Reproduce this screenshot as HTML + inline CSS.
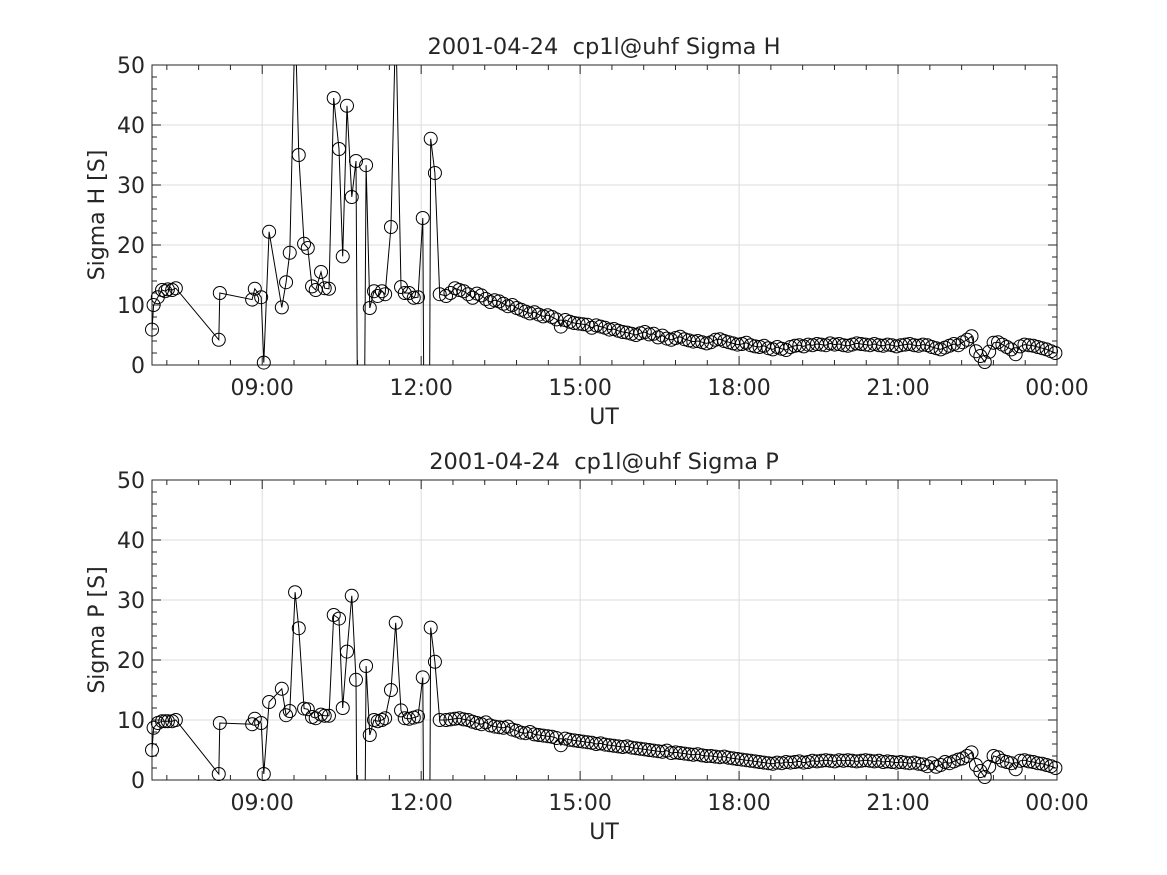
<!DOCTYPE html>
<html><head><meta charset="utf-8"><style>
html,body{margin:0;padding:0;background:#fff;overflow:hidden;width:1167px;height:875px;}
svg{display:block;overflow:hidden;position:absolute;left:0;top:0;}
svg text{font-family:"DejaVu Sans","Liberation Sans",sans-serif;fill:#262626;white-space:pre;}
</style></head><body>
<svg id="fig" width="1167" height="875" viewBox="0 0 1167 875" xmlns="http://www.w3.org/2000/svg"></svg>
<script>
// Early irregular samples (hours UT)
const earlyTimes=[6.92,6.95,7.03,7.11,7.17,7.22,7.30,7.37,8.18,8.20,8.81,8.86,8.98,9.03,9.13,9.37,9.45,9.52,9.62,9.69,9.79,9.86,9.94,10.01,10.11,10.18,10.26,10.35,10.45,10.52,10.60,10.69,10.77,10.86,10.96,11.03,11.11,11.18,11.26,11.32,11.43,11.52,11.62,11.69,11.77,11.86,11.94,12.03,12.11,12.18,12.26,12.35];
const earlyH=[5.9,10.0,11.3,12.5,12.3,12.6,12.5,12.8,4.2,12.0,10.9,12.7,11.3,0.4,22.2,9.6,13.8,18.7,58,35,20.2,19.5,13.1,12.5,15.5,12.8,12.7,44.5,36,18.1,43.2,28,34,-100,33.3,9.5,12.3,11.5,12.3,11.8,23,58,13,12,12,11.2,11.3,24.5,-100,37.7,32,11.8];
const earlyP=[5.0,8.7,9.5,9.8,9.8,9.8,9.8,10.0,1.0,9.5,9.3,10.2,9.5,1.0,13.0,15.2,10.8,11.5,31.3,25.3,11.9,11.8,10.5,10.3,10.9,10.7,10.7,27.5,26.9,12.0,21.4,30.7,16.7,-100,19.0,7.5,10,9.8,10,10.3,15,26.2,11.6,10.3,10.2,10.4,10.6,17.1,-100,25.4,19.7,10.0];
// Regular 5-minute samples starting 12:28 UT
const regStart=12.47;
const regH=[11.5,12.0,12.8,12.5,12.3,11.8,11.2,11.9,11.6,11.0,10.5,10.8,
10.6,10.2,9.8,10.0,9.5,9.2,8.9,8.6,8.8,8.4,8.1,8.3,
8.0,7.6,6.4,7.5,7.2,7.0,6.9,6.8,6.7,6.2,6.6,6.4,
6.2,5.9,6.0,5.7,5.5,5.4,5.2,5.0,5.3,5.5,5.1,5.2,
4.6,4.9,4.4,4.2,4.5,4.7,4.3,4.1,3.9,4.0,3.8,3.6,
3.8,4.2,4.3,4.0,3.8,3.6,3.4,3.5,3.7,3.3,3.1,3.0,
3.2,2.8,2.6,3.0,2.7,2.5,3.0,3.2,3.3,3.1,3.4,3.3,
3.5,3.4,3.3,3.6,3.4,3.5,3.3,3.2,3.4,3.6,3.5,3.4,
3.3,3.5,3.3,3.2,3.4,3.3,3.1,3.3,3.4,3.5,3.3,3.2,
3.4,3.3,3.0,2.8,2.6,2.9,3.2,3.5,3.3,3.8,4.2,4.8,
2.3,1.5,0.5,2.2,3.7,3.8,3.4,3.0,2.6,1.8,3.1,3.4,
3.3,3.2,3.0,2.8,2.6,2.3,2.0];
const regP=[10.0,10.1,10.2,10.3,10.1,10.0,9.7,9.5,9.3,9.6,9.1,8.9,
8.8,8.7,8.9,8.4,8.2,7.9,7.8,8.0,7.6,7.5,7.4,7.3,
7.2,7.0,5.8,6.9,6.7,6.6,6.5,6.4,6.3,6.2,6.0,6.1,
5.9,5.8,5.7,5.6,5.5,5.6,5.4,5.3,5.2,5.1,5.0,4.9,
4.8,4.7,4.9,4.5,4.6,4.5,4.4,4.3,4.2,4.3,4.1,4.0,
4.0,3.9,3.8,3.9,3.7,3.6,3.5,3.4,3.3,3.2,3.1,3.0,
2.9,2.8,2.7,2.9,2.8,3.0,2.9,3.0,3.1,2.9,3.0,3.2,
3.1,3.2,3.3,3.2,3.1,3.3,3.2,3.3,3.2,3.1,3.2,3.3,
3.2,3.1,3.2,3.0,3.1,3.0,2.9,3.0,2.9,2.8,2.9,2.7,
2.6,2.3,2.8,2.2,2.5,3.0,2.8,3.1,3.4,3.6,4.0,4.6,
2.5,1.5,0.5,2.2,4.0,3.8,3.2,3.0,2.8,1.8,3.2,3.3,
3.1,3.0,2.8,2.7,2.5,2.3,2.0];
const xTickHours=[9,12,15,18,21,24];
const xTickLabels=["09:00","12:00","15:00","18:00","21:00","00:00"];
const yTicks=[0,10,20,30,40,50];
const xMin=6.92, xMax=24, yMin=0, yMax=50;

const NS="http://www.w3.org/2000/svg";
const svg=document.getElementById('fig');
function el(tag,attrs,parent){const e=document.createElementNS(NS,tag);for(const k in attrs)e.setAttribute(k,attrs[k]);(parent||svg).appendChild(e);return e;}

const times=earlyTimes.concat(regH.map((_,i)=>regStart+i/12));
function panel(top,vals,title,ylabel,id){
  const L=152,R=1057,T=top,B=top+300;
  const X=h=>L+(h-xMin)/(xMax-xMin)*(R-L);
  const Y=v=>B-(v-yMin)/(yMax-yMin)*(B-T);
  const g=el('g',{});
  
  
  const cp=el('clipPath',{id:'clip'+id},g);
  el('rect',{x:L,y:T,width:R-L,height:B-T},cp);
  xTickHours.forEach(h=>{const l=el('line',{x1:X(h),x2:X(h),y1:T,y2:B,stroke:'#dcdcdc','stroke-width':1},g);});
  yTicks.forEach(v=>{const l=el('line',{x1:L,x2:R,y1:Y(v),y2:Y(v),stroke:'#dcdcdc','stroke-width':1},g);});
  for(let h=xTickHours[0]-3*0.6;h<=xMax+1e-6;h+=0.6){if(h<xMin)continue;const mj=xTickHours.some(t=>Math.abs(t-h)<1e-6);const len=mj?9:5;
    el('line',{x1:X(h),x2:X(h),y1:B,y2:B-len,stroke:'#262626'},g);el('line',{x1:X(h),x2:X(h),y1:T,y2:T+len,stroke:'#262626'},g);}
  for(let v=0;v<=50;v+=2){const mj=v%10===0;const len=mj?9:5;
    el('line',{x1:L,x2:L+len,y1:Y(v),y2:Y(v),stroke:'#262626'},g);el('line',{x1:R,x2:R-len,y1:Y(v),y2:Y(v),stroke:'#262626'},g);}
  el('rect',{x:L,y:T,width:R-L,height:B-T,fill:'none',stroke:'#262626','stroke-width':1},g);
  xTickHours.forEach((h,i)=>{const t=el('text',{x:X(h),y:B+30,'text-anchor':'middle','font-size':22},g);t.textContent=xTickLabels[i];});
  yTicks.forEach(v=>{const t=el('text',{x:L-7,y:Y(v)+8,'text-anchor':'end','font-size':22},g);t.textContent=String(v);});
  const tt=el('text',{x:604,y:T-11,'text-anchor':'middle','font-size':22.5},g);tt.textContent=title;
  
  const xl=el('text',{x:604,y:B+59,'text-anchor':'middle','font-size':22},g);xl.textContent='UT';
  
  const yl=el('text',{x:0,y:0,'text-anchor':'middle','font-size':22,transform:`translate(104,${(T+B)/2}) rotate(-90)`},g);yl.textContent=ylabel;
  
  const dg=el('g',{'clip-path':`url(#clip${id})`},g);
  const d=vals.map((v,i)=>(i?'L':'M')+X(times[i]).toFixed(1)+','+Y(v).toFixed(1)).join('');
  const p=el('path',{d:d,fill:'none',stroke:'#000','stroke-width':1},dg);
  
  vals.forEach((v,i)=>{if(v<yMin-0.5||v>yMax+0.5)return;
    const c=el('circle',{cx:X(times[i]),cy:Y(v),r:6.5,fill:'none',stroke:'#000','stroke-width':1},g);
    });
}
panel(65,earlyH.concat(regH),'2001-04-24  cp1l@uhf Sigma H','Sigma H [S]','sigma-h');
panel(480,earlyP.concat(regP),'2001-04-24  cp1l@uhf Sigma P','Sigma P [S]','sigma-p');
</script>
</body></html>
